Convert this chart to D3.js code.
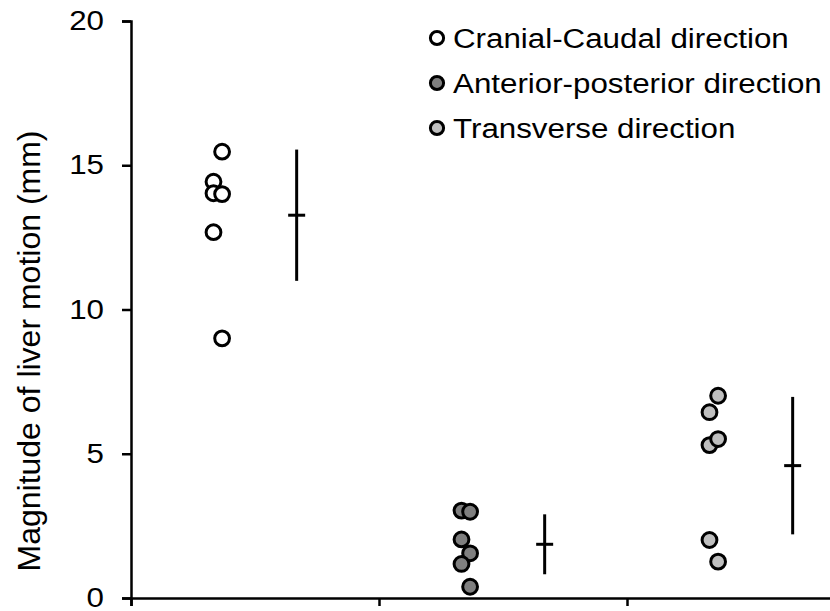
<!DOCTYPE html>
<html>
<head>
<meta charset="utf-8">
<script src="https://cdn.jsdelivr.net/npm/d3@7"></script>
<style>
  body { margin: 0; background: #fff; }
  svg text { font-family: "Liberation Sans", Arial, Helvetica, sans-serif; fill: #000; }
</style>
</head>
<body>
<svg id="chart" width="830" height="611"></svg>
<script>
// Motion directions and their marker fills
const directions = ["Cranial-Caudal direction", "Anterior-posterior direction", "Transverse direction"];
const fills = ["#ffffff", "#7f7f7f", "#bfbfbf"];

// Per-patient liver motion (mm); even entries sit left of the column, odd entries right
const cranialCaudal     = [14.43, 15.47, 14.03, 14.00, 12.68, 9.00];
const anteriorPosterior = [3.03, 2.99, 2.03, 1.55, 1.18, 0.39];
const transverse        = [6.44, 7.01, 5.30, 5.51, 2.01, 1.26];

const yTicks = [0, 5, 10, 15, 20];
const yTitle = "Magnitude of liver motion (mm)";

const series = [cranialCaudal, anteriorPosterior, transverse];

const plotLeft = 131, plotBottom = 598, plotTop = 21;
const stretch = 1.16;   // horizontal text widening
const fontSize = 27;

const svg = d3.select("#chart");

const y = d3.scaleLinear().domain([0, 20]).range([plotBottom, plotTop]);
const x = d3.scaleLinear().domain([0, 3]).range([plotLeft, plotLeft + 3 * 248]);

// Y axis
const yAxis = svg.append("g")
  .attr("transform", `translate(${plotLeft},0)`)
  .call(d3.axisLeft(y).tickValues(yTicks).tickSize(9).tickPadding(0).tickFormat(d3.format("d")));
yAxis.select(".domain").attr("stroke", "#000").attr("stroke-width", 2.5);
yAxis.selectAll(".tick line").attr("stroke", "#000").attr("stroke-width", 2.5);
yAxis.selectAll(".tick text")
  .attr("x", -27 / stretch)
  .attr("dy", "0.32em")
  .attr("transform", `scale(${stretch},1)`)
  .style("font-size", fontSize + "px");

// X axis: category boundaries only, no labels
const xAxis = svg.append("g")
  .attr("transform", `translate(0,${plotBottom})`)
  .call(d3.axisBottom(x).tickValues([0, 1, 2]).tickSize(8).tickFormat(""));
xAxis.select(".domain").attr("stroke", "#000").attr("stroke-width", 2.5);
xAxis.selectAll(".tick line").attr("stroke", "#000").attr("stroke-width", 2.5);

// Y axis title
svg.append("text")
  .attr("transform", "translate(40,351) rotate(-90)")
  .attr("text-anchor", "middle")
  .style("font-size", "32px")
  .text(yTitle);

// Individual points
const r = 7.4;
series.forEach((vals, i) => {
  const cx = x(i + 0.35);
  svg.append("g").selectAll("circle")
    .data(vals)
    .join("circle")
    .attr("cx", (d, j) => cx + (j % 2 === 0 ? -4.3 : 4.3))
    .attr("cy", d => y(d))
    .attr("r", r)
    .attr("fill", fills[i])
    .attr("stroke", "#000")
    .attr("stroke-width", 3);
});

// Mean ± SD markers
series.forEach((vals, i) => {
  const m = d3.mean(vals), sd = d3.deviation(vals);
  const bx = x(i + 0.668);
  const g = svg.append("g").attr("stroke", "#000").attr("stroke-width", 3);
  g.append("line").attr("x1", bx).attr("x2", bx).attr("y1", y(m + sd)).attr("y2", y(m - sd));
  g.append("line").attr("x1", bx - 8.5).attr("x2", bx + 8.5).attr("y1", y(m)).attr("y2", y(m));
});

// Legend
const legend = svg.append("g").attr("transform", "translate(437,38)");
directions.forEach((name, i) => {
  const row = legend.append("g").attr("transform", `translate(0,${i * 45})`);
  row.append("circle").attr("r", 6.6).attr("fill", fills[i])
    .attr("stroke", "#000").attr("stroke-width", 3);
  row.append("text")
    .attr("transform", `translate(16,9.5) scale(${stretch},1)`)
    .style("font-size", fontSize + "px")
    .text(name);
});
</script>
</body>
</html>
